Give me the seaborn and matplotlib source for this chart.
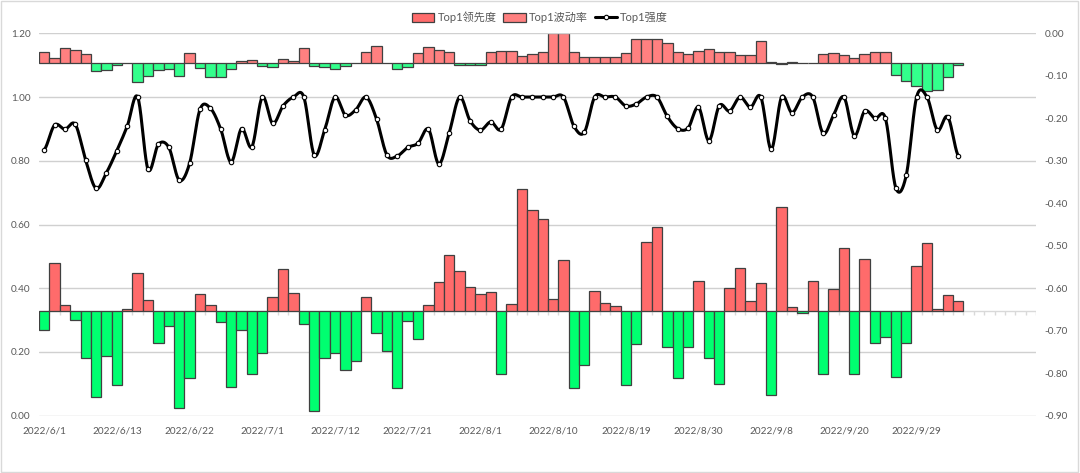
import matplotlib
matplotlib.use('Agg')
import matplotlib.pyplot as plt
from matplotlib.patches import Patch, Rectangle
from matplotlib.lines import Line2D
import seaborn as sns
import numpy as np
import pandas as pd

##### DATA #####
# trading days shown on the category axis (holidays removed), then blank slots
holidays = ['2022-06-03', '2022-09-12', '2022-10-03', '2022-10-04',
            '2022-10-05', '2022-10-06', '2022-10-07']
n_blank = 7

# Top1领先度 (right axis), bars grow from lead_base
lead_base = -0.07
lead = [-0.044, -0.059, -0.034, -0.040, -0.049, -0.088, -0.086, -0.074, -0.071, -0.115,
        -0.100, -0.086, -0.085, -0.101, -0.046, -0.082, -0.102, -0.102, -0.085, -0.066,
        -0.064, -0.077, -0.079, -0.060, -0.066, -0.035, -0.078, -0.080, -0.084, -0.078,
        -0.071, -0.045, -0.031, -0.069, -0.084, -0.080, -0.047, -0.033, -0.039, -0.043,
        -0.075, -0.075, -0.075, -0.044, -0.041, -0.042, -0.053, -0.049, -0.045, 0.000,
        0.000, -0.043, -0.056, -0.056, -0.056, -0.056, -0.046, -0.014, -0.014, -0.014,
        -0.024, -0.043, -0.048, -0.041, -0.038, -0.045, -0.045, -0.051, -0.051, -0.018,
        -0.067, -0.072, -0.068, -0.071, -0.071, -0.048, -0.046, -0.051, -0.059, -0.049,
        -0.043, -0.045, -0.098, -0.113, -0.124, -0.136, -0.134, -0.102, -0.075]

# Top1波动率 (left axis), bars grow from vol_base
vol_base = 0.33
vol = [0.269, 0.478, 0.348, 0.300, 0.180, 0.058, 0.186, 0.097, 0.335, 0.449,
       0.363, 0.229, 0.282, 0.023, 0.118, 0.382, 0.347, 0.294, 0.089, 0.269,
       0.132, 0.197, 0.374, 0.460, 0.384, 0.288, 0.016, 0.181, 0.197, 0.142,
       0.171, 0.372, 0.261, 0.202, 0.088, 0.296, 0.240, 0.348, 0.420, 0.503,
       0.453, 0.405, 0.381, 0.389, 0.130, 0.350, 0.710, 0.646, 0.617, 0.366,
       0.490, 0.086, 0.160, 0.390, 0.354, 0.343, 0.095, 0.225, 0.545, 0.591,
       0.215, 0.118, 0.217, 0.422, 0.181, 0.098, 0.401, 0.462, 0.360, 0.415,
       0.064, 0.655, 0.342, 0.322, 0.422, 0.130, 0.397, 0.525, 0.130, 0.493,
       0.228, 0.246, 0.120, 0.228, 0.469, 0.543, 0.336, 0.379, 0.360]

# Top1强度 (left axis)
strength = [0.834, 0.912, 0.899, 0.914, 0.801, 0.713, 0.763, 0.832, 0.909, 1.000,
            0.773, 0.852, 0.842, 0.739, 0.792, 0.961, 0.965, 0.899, 0.796, 0.901,
            0.844, 1.000, 0.917, 0.972, 1.000, 1.000, 0.818, 0.896, 1.000, 0.943,
            0.960, 1.000, 0.931, 0.818, 0.815, 0.842, 0.855, 0.899, 0.790, 0.888,
            1.000, 0.926, 0.896, 0.922, 0.899, 1.000, 1.000, 1.000, 1.000, 1.000,
            1.000, 0.909, 0.889, 1.000, 1.000, 1.000, 0.972, 0.978, 1.000, 1.000,
            0.939, 0.901, 0.903, 0.968, 0.863, 0.973, 0.956, 1.000, 0.968, 1.000,
            0.836, 1.000, 0.951, 1.000, 1.000, 0.886, 0.943, 1.000, 0.879, 0.956,
            0.933, 0.933, 0.715, 0.754, 1.000, 1.000, 0.896, 0.938, 0.816]
#####

days = pd.bdate_range('2022-06-01', periods=120)
days = [d for d in days if d.strftime('%Y-%m-%d') not in holidays][:len(strength)]
cats = ['%d/%d/%d' % (d.year, d.month, d.day) for d in days] + [''] * n_blank
N = len(cats)
x = np.arange(len(strength))

##### PLOTTING #####
sns.set_style('white')
plt.rcParams['font.family'] = ['Lato', 'Noto Sans CJK SC', 'DejaVu Sans']
grey_txt = '#595959'

red_lo, green_lo = '#FF6B6B', '#00FF70'
red_hi, green_hi = '#FF8080', '#33FF8C'
edge = '#404040'


def fmt2(v, pos=0):
    return '%.2f' % (0.0 if abs(v) < 1e-9 else v)


fig = plt.figure(figsize=(10.8, 4.73), dpi=100)
ax = fig.add_axes([0.0361, 0.1211, 0.9232, 0.8085])
ax2 = ax.twinx()
ax.set_zorder(ax2.get_zorder() + 1)
ax.patch.set_visible(False)

# top bars on secondary axis
lead_a = np.array(lead)
ax2.bar(x, lead_a - lead_base, bottom=lead_base, width=1.0,
        color=[red_hi if v >= lead_base else green_hi for v in lead_a],
        edgecolor=edge, linewidth=0.9, zorder=2)
ax2.set_ylim(-0.9, 0)
ax2.set_yticks(np.round(np.arange(-0.9, 0.001, 0.1), 2))
ax2.yaxis.set_major_formatter(fmt2)

# bottom bars on primary axis
vol_a = np.array(vol)
ax.vlines(np.arange(N + 1) - 0.5, vol_base - 0.013, vol_base, color='#D9D9D9', lw=1, zorder=0.5)
ax.axhline(vol_base, color='#D9D9D9', lw=1, zorder=0.5)
ax.bar(x, vol_a - vol_base, bottom=vol_base, width=1.0,
       color=[red_lo if v >= vol_base else green_lo for v in vol_a],
       edgecolor=edge, linewidth=0.9, zorder=2)

# smooth line (Excel style bezier through points)
y = np.array(strength)
xs, ys = [], []
t = np.linspace(0, 1, 20)
for i in range(len(y) - 1):
    p0 = y[max(i - 1, 0)]
    p1, p2 = y[i], y[i + 1]
    p3 = y[min(i + 2, len(y) - 1)]
    c1 = p1 + (p2 - p0) / 6
    c2 = p2 - (p3 - p1) / 6
    ys.extend((1 - t) ** 3 * p1 + 3 * (1 - t) ** 2 * t * c1 + 3 * (1 - t) * t ** 2 * c2 + t ** 3 * p2)
    xs.extend(i + t)
sm = pd.DataFrame({'x': xs, 'y': ys})
sns.lineplot(data=sm, x='x', y='y', ax=ax, color='black', lw=2.2, sort=False, zorder=4)
ax.plot(x, y, ls='none', marker='o', ms=3.2, mfc='white', mec='black', mew=0.8, zorder=5)

ax.set_xlim(-0.5, N - 0.5)
ax.set_ylim(0, 1.2)
ax.set_yticks(np.round(np.arange(0, 1.21, 0.2), 2))
ax.yaxis.set_major_formatter(fmt2)
ax.yaxis.grid(True, color='#D0D0D0', lw=1)
ax.set_axisbelow(True)
tick_idx = np.arange(0, len(strength) - 1, 7)
ax.set_xticks(tick_idx)
ax.set_xticklabels([cats[i] for i in tick_idx])
ax.set_xlabel('')
ax.set_ylabel('')

for a in (ax, ax2):
    for s in a.spines.values():
        s.set_visible(False)
ax.tick_params(axis='both', length=0, labelsize=7.2, colors=grey_txt)
ax.tick_params(axis='x', pad=8)
ax.tick_params(axis='y', pad=6)
ax2.tick_params(axis='y', length=0, labelsize=7.2, colors=grey_txt, pad=6)

handles = [Patch(facecolor=red_lo, edgecolor=edge, lw=0.9),
           Patch(facecolor=red_hi, edgecolor=edge, lw=0.9),
           Line2D([], [], color='black', lw=2.2, marker='o', ms=3.2, mfc='white', mec='black', mew=0.8)]
fig.legend(handles, ['Top1领先度', 'Top1波动率', 'Top1强度'], loc='center',
           bbox_to_anchor=(0.5, 0.963), ncol=3, frameon=False, fontsize=8,
           handlelength=2.0, handleheight=0.9, handletextpad=0.3, columnspacing=0.6,
           labelcolor=grey_txt)

fig.patches.append(Rectangle((0.001, 0.002), 0.997, 0.995, transform=fig.transFigure,
                             fill=False, edgecolor='#D9D9D9', lw=1))

plt.savefig('out.png', dpi=100)
